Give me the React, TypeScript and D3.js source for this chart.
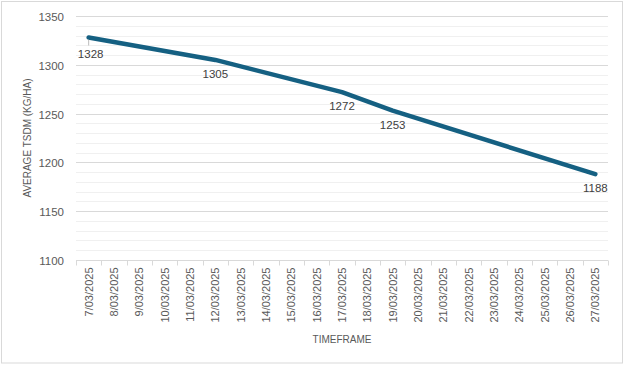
import React, { useRef, useEffect } from 'react';
import * as d3 from 'd3';

const dates = [
    '7/03/2025', '8/03/2025', '9/03/2025', '10/03/2025', '11/03/2025', '12/03/2025', '13/03/2025',
    '14/03/2025', '15/03/2025', '16/03/2025', '17/03/2025', '18/03/2025', '19/03/2025', '20/03/2025',
    '21/03/2025', '22/03/2025', '23/03/2025', '24/03/2025', '25/03/2025', '26/03/2025', '27/03/2025',
];
const pointDates = ['7/03/2025', '12/03/2025', '17/03/2025', '19/03/2025', '27/03/2025'];
const pointValues = [1328, 1305, 1272, 1253, 1188];
const yTicks = [1100, 1150, 1200, 1250, 1300, 1350];
const yMinorTicks = d3.range(1100, 1351, 10);

export default function App() {
    const svgRef = useRef<SVGSVGElement | null>(null);

    useEffect(() => {
        const width = 625;
        const height = 365;
        const margin = { top: 16, right: 17, bottom: 105, left: 76 };
        const font = 'Liberation Sans, Arial, sans-serif';

        d3.select(svgRef.current).selectAll('*').remove();

        const svg = d3.select(svgRef.current).attr('width', width).attr('height', height);

        svg.append('rect')
            .attr('x', 1.5)
            .attr('y', 1.5)
            .attr('width', 621)
            .attr('height', 361.5)
            .attr('fill', 'white')
            .attr('stroke', '#d9d9d9');

        const xScale = d3
            .scaleBand()
            .domain(dates)
            .range([margin.left, width - margin.right]);

        const yScale = d3
            .scaleLinear()
            .domain([1100, 1350])
            .range([height - margin.bottom, margin.top]);

        // minor gridlines
        yMinorTicks.forEach((t) => {
            if (t % 50 === 0) return;
            svg.append('line')
                .attr('x1', margin.left)
                .attr('x2', width - margin.right)
                .attr('y1', Math.round(yScale(t)) + 0.5)
                .attr('y2', Math.round(yScale(t)) + 0.5)
                .attr('stroke', '#f0f0f0')
                .attr('stroke-width', 1);
        });

        // major gridlines + labels
        yTicks.forEach((t) => {
            const y = Math.round(yScale(t)) + 0.5;
            svg.append('line')
                .attr('x1', margin.left)
                .attr('x2', width - margin.right)
                .attr('y1', y)
                .attr('y2', y)
                .attr('stroke', '#d9d9d9')
                .attr('stroke-width', 1);

            svg.append('text')
                .attr('x', 64)
                .attr('y', y + 4)
                .attr('text-anchor', 'end')
                .text(t)
                .attr('fill', '#595959')
                .attr('font-family', font)
                .attr('font-size', 11.5);
        });

        // x axis tick marks
        const y0 = Math.round(yScale(1100)) + 0.5;
        const bounds = dates.map((d) => xScale(d)!).concat([width - margin.right]);
        bounds.forEach((x) => {
            svg.append('line')
                .attr('x1', Math.round(x) + 0.5)
                .attr('x2', Math.round(x) + 0.5)
                .attr('y1', y0)
                .attr('y2', y0 + 5)
                .attr('stroke', '#d9d9d9');
        });

        dates.forEach((d) => {
            const x = xScale(d)! + xScale.bandwidth() / 2;
            svg.append('text')
                .attr('transform', `translate(${x + 4},${y0 + 7}) rotate(-90)`)
                .attr('text-anchor', 'end')
                .text(d)
                .attr('fill', '#595959')
                .attr('font-family', font)
                .attr('font-size', 11);
        });

        // line
        const pts = pointDates.map((d, i) => ({ d, v: pointValues[i] }));
        const line = d3
            .line<{ d: string; v: number }>()
            .x((p) => xScale(p.d)! + xScale.bandwidth() / 2)
            .y((p) => yScale(p.v));

        svg.append('path')
            .datum(pts)
            .attr('d', line)
            .attr('fill', 'none')
            .attr('stroke', '#156082')
            .attr('stroke-width', 4.5)
            .attr('stroke-linecap', 'round')
            .attr('stroke-linejoin', 'round');

        // data labels (first one is pushed down with a leader line, like Excel)
        pts.forEach((p, i) => {
            const x = xScale(p.d)! + xScale.bandwidth() / 2;
            const y = yScale(p.v);
            const dy = i === 0 ? 21 : 18;
            if (i === 0) {
                svg.append('line')
                    .attr('x1', x)
                    .attr('x2', x)
                    .attr('y1', y + 2)
                    .attr('y2', y + 8)
                    .attr('stroke', '#a6a6a6')
                    .attr('stroke-width', 0.75);
            }
            svg.append('text')
                .attr('x', x + (i === 0 ? 2 : 0))
                .attr('y', y + dy)
                .attr('text-anchor', 'middle')
                .text(p.v)
                .attr('fill', '#404040')
                .attr('font-family', font)
                .attr('font-size', 11.5);
        });

        // axis titles
        svg.append('text')
            .attr('transform', `translate(31,${(margin.top + height - margin.bottom) / 2}) rotate(-90)`)
            .attr('text-anchor', 'middle')
            .text('AVERAGE TSDM (KG/HA)')
            .attr('fill', '#595959')
            .attr('font-family', font)
            .attr('font-size', 10);

        svg.append('text')
            .attr('x', (margin.left + width - margin.right) / 2)
            .attr('y', 343)
            .attr('text-anchor', 'middle')
            .text('TIMEFRAME')
            .attr('fill', '#595959')
            .attr('font-family', font)
            .attr('font-size', 10);
    }, []);

    return <svg ref={svgRef} style={{ position: 'absolute', left: 0, top: 0 }}></svg>;
}
